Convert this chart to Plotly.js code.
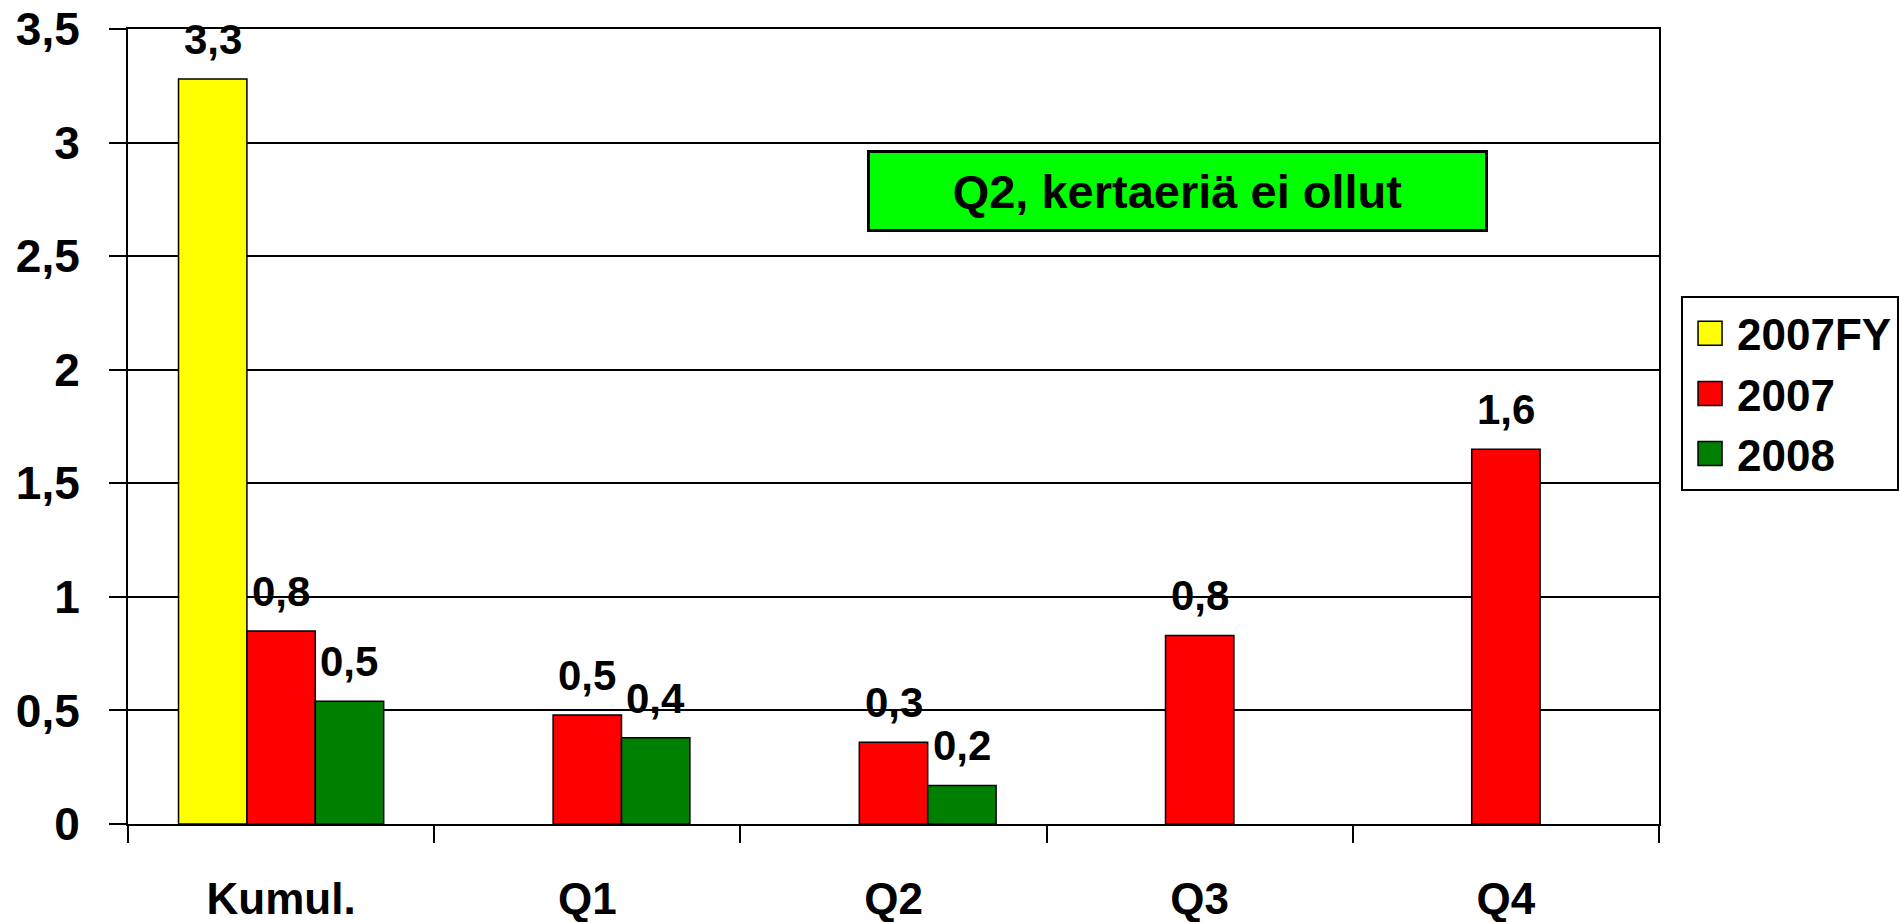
<!DOCTYPE html>
<html>
<head>
<meta charset="utf-8">
<script src="https://cdn.plot.ly/plotly-3.0.1.min.js"></script>
<style>
  html, body { margin: 0; padding: 0; background: #fff; }
  #chart { width: 1899px; height: 922px; }
</style>
</head>
<body>
<div id="chart"></div>
<script>
// values
var categories = ['Kumul.', 'Q1', 'Q2', 'Q3', 'Q4'];
var fy2007 = [3.28, null, null, null, null];
var y2007 = [0.85, 0.48, 0.36, 0.83, 1.65];
var y2008 = [0.54, 0.38, 0.17, null, null];
var fy2007Labels = ['3,3', '', '', '', ''];
var y2007Labels = ['0,8', '0,5', '0,3', '0,8', '1,6'];
var y2008Labels = ['0,5', '0,4', '0,2', '', ''];
var seriesNames = ['2007FY', '2007', '2008'];
var seriesColors = ['#ffff00', '#ff0000', '#008000'];
var noteText = 'Q2, kertaeriä ei ollut';

var font = 'Arial, "Liberation Sans", sans-serif';
var series = [fy2007, y2007, y2008];
var labels = [fy2007Labels, y2007Labels, y2008Labels];
var bargap = 0.33;
var slot = (1 - bargap) / series.length;

var traces = [];
var annotations = [];
for (var k = 0; k < series.length; k++) {
  traces.push({
    type: 'bar',
    name: seriesNames[k],
    x: categories,
    y: series[k],
    marker: { color: seriesColors[k], line: { color: '#000', width: 1.5 } },
    hoverinfo: 'none'
  });
  // value labels sit a bit above each bar
  for (var i = 0; i < categories.length; i++) {
    if (series[k][i] === null || !labels[k][i]) continue;
    annotations.push({
      x: i + (k - 1) * slot,
      y: series[k][i],
      xref: 'x', yref: 'y',
      text: '<b>' + labels[k][i] + '</b>',
      showarrow: false,
      yanchor: 'bottom',
      yshift: 14,
      font: { family: font, size: 42, color: '#000' }
    });
  }
}

// green note box
annotations.push({
  xref: 'paper', yref: 'paper',
  x: 0.6855, y: 0.796,
  xanchor: 'center', yanchor: 'middle',
  text: '<b>' + noteText + '</b>',
  showarrow: false,
  bgcolor: '#00ff00',
  bordercolor: '#000',
  borderwidth: 3,
  borderpad: 0,
  width: 615,
  height: 76,
  font: { family: font, size: 47, color: '#000' }
});

var layout = {
  width: 1899,
  height: 922,
  // legend runs off the right edge like in the original, so don't let it push the plot
  margin: { l: 128, r: 240, t: 29, b: 98, autoexpand: false },
  paper_bgcolor: '#fff',
  plot_bgcolor: '#fff',
  separators: ', ',
  barmode: 'group',
  bargap: bargap,
  bargroupgap: 0,
  font: { family: font, color: '#000' },
  xaxis: {
    type: 'category',
    tickson: 'boundaries',
    ticks: 'outside',
    ticklen: 17,
    tickwidth: 2,
    tickcolor: '#000',
    showline: true,
    mirror: true,
    linecolor: '#000',
    linewidth: 2,
    showgrid: false,
    ticklabelstandoff: 35,
    tickfont: { family: font, size: 44, color: '#000', weight: 'bold' }
  },
  yaxis: {
    range: [0, 3.5],
    dtick: 0.5,
    tick0: 0,
    ticks: 'outside',
    ticklen: 17,
    tickwidth: 2,
    tickcolor: '#000',
    showline: true,
    mirror: true,
    linecolor: '#000',
    linewidth: 2,
    showgrid: true,
    gridcolor: '#000',
    gridwidth: 2,
    zeroline: false,
    ticklabelstandoff: 20,
    tickfont: { family: font, size: 46, color: '#000', weight: 'bold' }
  },
  legend: {
    x: 1.0144,
    y: 0.664,
    xanchor: 'left',
    yanchor: 'top',
    bgcolor: '#fff',
    bordercolor: '#000',
    borderwidth: 2,
    itemwidth: 44,
    font: { family: font, size: 44, color: '#000', weight: 'bold' }
  },
  annotations: annotations,
  showlegend: true
};

Plotly.newPlot('chart', traces, layout, { displayModeBar: false, staticPlot: true }).then(function(gd) {
  // the legend squares are bigger than plotly's default
  var pts = gd.querySelectorAll('.legend .legendpoints path');
  for (var j = 0; j < pts.length; j++) {
    pts[j].setAttribute('d', 'M12,12H-12V-12H12Z');
  }
});
</script>
</body>
</html>
